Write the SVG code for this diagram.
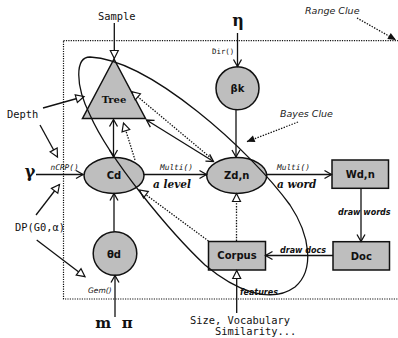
<svg xmlns="http://www.w3.org/2000/svg" width="398" height="338" viewBox="0 0 398 338">
<style>
.n{fill:#bebebe;stroke:#111;stroke-width:1.5}
.c{fill:none;stroke:#111;stroke-width:1.3}
.d{fill:none;stroke:#111;stroke-width:1.3;stroke-dasharray:1.4 1.4}
.lb{font-family:"DejaVu Sans",sans-serif;font-weight:bold;font-size:10px;text-anchor:middle;fill:#111}
.mono{font-family:"DejaVu Sans Mono",monospace;font-size:10.4px;fill:#111}
.sm{font-family:"DejaVu Sans Mono",monospace;font-size:7.8px;fill:#111}
.it{font-family:"DejaVu Sans",sans-serif;font-style:italic;font-size:9.5px;fill:#222}
.bi{font-family:"DejaVu Sans",sans-serif;font-style:italic;font-weight:bold;font-size:8px;fill:#111}
.lv{font-family:"DejaVu Serif",serif;font-style:italic;font-weight:bold;font-size:10.5px;fill:#111}
.gk{font-family:"DejaVu Serif",serif;font-weight:bold;font-size:16px;fill:#111;text-anchor:middle}
</style>
<defs>
<marker id="vee" markerUnits="userSpaceOnUse" viewBox="-10 -6 12 12" refX="0" refY="0" markerWidth="12" markerHeight="12" orient="auto-start-reverse" overflow="visible">
<path d="M-7,-4 L0,0 L-7,4" fill="none" stroke="#111" stroke-width="1.3"/>
</marker>
<marker id="tri" markerUnits="userSpaceOnUse" viewBox="-10 -6 12 12" refX="0" refY="0" markerWidth="12" markerHeight="12" orient="auto" overflow="visible">
<path d="M-8,-4 L0,0 L-8,4 Z" fill="#fff" stroke="#111" stroke-width="1.2"/>
</marker>
<marker id="fil" markerUnits="userSpaceOnUse" viewBox="-10 -6 12 12" refX="0" refY="0" markerWidth="12" markerHeight="12" orient="auto" overflow="visible">
<path d="M-8,-3.5 L0,0 L-8,3.5 Z" fill="#111"/>
</marker>
</defs>
<rect x="0" y="0" width="398" height="338" fill="#fff"/>
<rect id="frame" x="63.5" y="40.7" width="345" height="258.3" fill="none" stroke="#111" stroke-width="1.2" stroke-dasharray="1.2 1.2"/>

<g id="tree"><polygon class="n" points="114,59 82.5,118.5 145.5,118.5"/><text x="114" y="103" style="font-family:'DejaVu Serif',serif;font-weight:bold;font-size:10px;text-anchor:middle;fill:#111">Tree</text></g>
<g id="beta"><circle class="n" cx="237.5" cy="88.3" r="21.5"/><text class="lb" x="237.5" y="92">βk</text></g>
<g id="cd"><ellipse class="n" cx="114" cy="175.5" rx="30" ry="18"/><text class="lb" x="114" y="179">Cd</text></g>
<g id="zdn"><ellipse class="n" cx="236.7" cy="175.5" rx="30" ry="18"/><text class="lb" x="236.7" y="179">Zd,n</text></g>
<g id="theta"><circle class="n" cx="115" cy="253.5" r="21.8"/><text class="lb" x="114" y="258">θd</text></g>
<g id="wdn"><rect class="n" x="332" y="160" width="56.5" height="28.3"/><text class="lb" x="360.2" y="177.5">Wd,n</text></g>
<g id="doc"><rect class="n" x="333" y="241.7" width="56.5" height="28.3"/><text class="lb" x="361.3" y="259.5">Doc</text></g>
<g id="corpus"><rect class="n" x="208.5" y="241.5" width="57" height="28.5"/><text class="lb" x="237" y="259">Corpus</text></g>

<g id="labels">
<text class="mono" x="98" y="19.5">Sample</text>
<text class="mono" x="7" y="117.5">Depth</text>
<text class="mono" x="15" y="231">DP(G0,α)</text>
<text class="mono" x="190" y="323.5">Size, Vocabulary</text>
<text class="mono" x="215" y="335">Similarity...</text>
<text class="gk" x="238" y="26">η</text>
<text class="gk" x="30" y="177">γ</text>
<text x="114" y="327.5" xml:space="preserve" style="font-family:'DejaVu Serif',serif;font-weight:bold;font-size:15px;text-anchor:middle;fill:#111">m  π</text>
<text class="sm" x="212" y="53.5" style="font-size:7.4px">Dir()</text>
<text class="sm" x="50.5" y="169.5" font-style="italic">nCRP()</text>
<text class="sm" x="160" y="169.5" font-style="italic">Multi()</text>
<text class="sm" x="277" y="169.5" font-style="italic">Multi()</text>
<text x="88" y="293" style="font-family:'DejaVu Sans',sans-serif;font-style:italic;font-size:7.5px;fill:#111">Gem()</text>
<text class="it" x="305" y="14">Range Clue</text>
<text class="it" x="280" y="117">Bayes Clue</text>
<text class="lv" x="153" y="188">a level</text>
<text class="lv" x="277" y="188">a word</text>
<text class="bi" x="338" y="214.5">draw words</text>
<text class="bi" x="280" y="253">draw docs</text>
<text class="bi" x="240" y="295">features</text>
</g>

<g id="connectors">
<path class="c" d="M114.3,23 L114.3,58.5" marker-end="url(#tri)"/>
<path class="c" d="M237.5,33 L237.5,66.5" marker-end="url(#vee)"/>
<path class="c" d="M236,110 L236,157" marker-end="url(#vee)"/>
<path class="d" d="M357,18 L396,40" marker-end="url(#fil)"/>
<path class="d" d="M298,122 L246.7,141.7" marker-end="url(#fil)"/>
<path class="c" d="M43,108 L84,96.5" marker-end="url(#tri)"/>
<path class="c" d="M40,125 L57.5,157" marker-end="url(#tri)"/>
<path class="c" d="M36,215 L59.5,184.5" marker-end="url(#tri)"/>
<path class="c" d="M36.7,240 L85,276.7" marker-end="url(#tri)"/>
<path class="c" d="M36,174.5 L83,174.5" marker-end="url(#vee)"/>
<path class="c" d="M115,317 L115,275.5" marker-end="url(#vee)"/>
<path class="c" d="M114,231.5 L114,193.5" marker-end="url(#vee)"/>
<path class="c" d="M113.5,157 L113.5,119.5" marker-start="url(#vee)" marker-end="url(#vee)"/>
<path class="d" d="M135,160 L123.5,123" marker-end="url(#tri)"/>
<path class="c" d="M146.5,120 L213.5,161.5" marker-start="url(#vee)" marker-end="url(#vee)"/>
<path class="d" d="M211.5,158.5 L131.7,91.7" marker-end="url(#tri)"/>
<path class="c" d="M144,174.5 L206.5,174.5" marker-end="url(#vee)"/>
<path class="c" d="M267,174.5 L331.5,174.5" marker-end="url(#vee)"/>
<path class="c" d="M361,188.5 L361,241.5" marker-end="url(#vee)"/>
<path class="c" d="M333,255.5 L265.5,255.5" marker-end="url(#vee)"/>
<path class="d" d="M236.5,241 L236.5,193.5" marker-end="url(#tri)"/>
<path class="d" d="M208.5,241 L139.5,190" marker-end="url(#tri)"/>
<path class="c" d="M236.7,313 L236.7,270.5" marker-end="url(#tri)"/>
<path class="c" d="M90,57 C150,60 250,150 290,205 C310,235 315,270 295,287 C270,305 235,290 205,265 C170,232 110,160 90,115 C75,85 75,57 90,57 Z"/>
</g>
</svg>
